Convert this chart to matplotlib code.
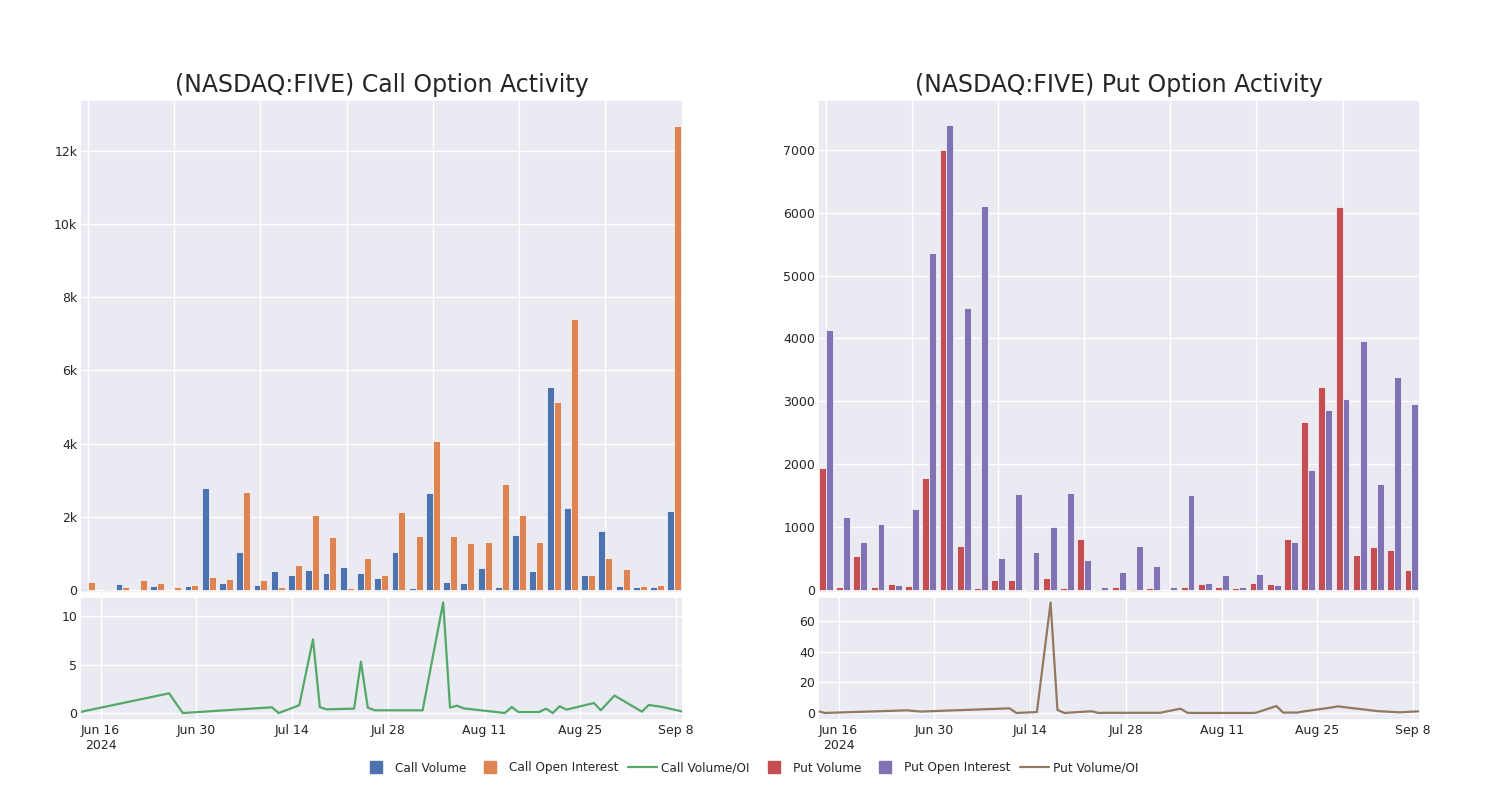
import matplotlib.pyplot as plt
import matplotlib.dates as mdates
from matplotlib.lines import Line2D
from matplotlib.ticker import FuncFormatter
import pandas as pd
import seaborn as sns

sns.set_theme(style="darkgrid")
plt.rcParams['font.family'] = ['DejaVu Sans']

# bar data, one value per expiration (35 groups)
call_volume = [30, 10, 165, 0, 110, 0, 100, 2800, 200, 1050, 135, 510, 410, 560, 470,
               625, 480, 330, 1040, 60, 2640, 230, 180, 590, 80, 1515, 510, 5550, 2250,
               420, 1605, 100, 90, 90, 2150]
call_oi = [210, 20, 75, 265, 190, 75, 125, 360, 310, 2670, 280, 90, 680, 2050, 1460,
           45, 870, 420, 2140, 1490, 4060, 1470, 1290, 1305, 2890, 2050, 1325, 5135, 7410,
           400, 870, 580, 100, 125, 12690]
put_volume = [1947, 53, 540, 53, 100, 69, 1783, 6995, 698, 32, 159, 153, 10, 196, 26,
              815, 16, 53, 16, 26, 5, 53, 90, 42, 26, 116, 95, 804, 2672, 3233, 6085,
              556, 688, 635, 312]
put_oi = [4137, 1164, 762, 1048, 74, 1280, 5354, 7400, 4492, 6116, 513, 1529, 598, 995, 1540,
          476, 53, 291, 698, 386, 53, 1513, 106, 233, 42, 254, 79, 757, 1915, 2868, 3032,
          3958, 1683, 3392, 2952]

# volume / open interest ratio by trading day
ratio_dates = ["2024-06-13", "2024-06-14", "2024-06-26", "2024-06-28", "2024-07-11",
               "2024-07-12", "2024-07-15", "2024-07-17", "2024-07-18", "2024-07-19",
               "2024-07-23", "2024-07-24", "2024-07-25", "2024-07-26", "2024-08-02",
               "2024-08-05", "2024-08-06", "2024-08-07", "2024-08-08", "2024-08-14",
               "2024-08-15", "2024-08-16", "2024-08-19", "2024-08-20", "2024-08-21",
               "2024-08-22", "2024-08-23", "2024-08-27", "2024-08-28", "2024-08-30",
               "2024-09-03", "2024-09-04", "2024-09-06", "2024-09-09"]
call_ratio = [0.1, 0.25, 2.03, 0.0, 0.59, 0.0, 0.8, 7.6, 0.6, 0.38, 0.45, 5.28, 0.55, 0.28,
              0.28, 11.4, 0.55, 0.76, 0.48, 0.0, 0.62, 0.1, 0.1, 0.45, 0.0, 0.7, 0.35,
              1.03, 0.28, 1.8, 0.14, 0.83, 0.62, 0.14]
put_ratio = [1.1, 0.0, 1.7, 0.9, 3.0, 0.0, 0.6, 72.0, 2.0, 0.0, 1.1, 0.0, 0.1, 0.1, 0.1,
             2.8, 0.1, 0.0, 0.0, 0.0, 0.0, 0.1, 4.5, 0.2, 0.3, 0.2, 1.0, 3.5, 4.3, 3.2,
             1.1, 0.9, 0.4, 1.1]

date_ticks = ["2024-06-16", "2024-06-30", "2024-07-14", "2024-07-28",
              "2024-08-11", "2024-08-25", "2024-09-08"]
date_labels = ["Jun 16\n2024", "Jun 30", "Jul 14", "Jul 28", "Aug 11", "Aug 25", "Sep 8"]

colors = {"cv": "#4C72B0", "coi": "#DD8452", "cr": "#55A868",
          "pv": "#C44E52", "poi": "#8172B3", "pr": "#937860"}

dates = pd.to_datetime(ratio_dates)
ticks = pd.to_datetime(date_ticks)
idx = list(range(len(call_volume)))


def k_fmt(v, pos):
    return "0" if v == 0 else f"{v / 1000:g}k"


def bar_panel(ax, first, second, c1, c2, title):
    ax.bar([i - 0.2 for i in idx], first, width=0.4, color=c1, edgecolor="white", linewidth=0.5)
    ax.bar([i + 0.2 for i in idx], second, width=0.4, color=c2, edgecolor="white", linewidth=0.5)
    ax.set_xlim(-0.46, 34.5)
    ax.set_xticks(range(0, 35, 5))
    ax.set_xticklabels([])
    ax.set_title(title, fontsize=17, pad=6, color="#262626")
    ax.tick_params(axis="both", length=0)
    ax.tick_params(axis="y", labelsize=9, pad=2)


def line_panel(ax, values, color):
    ax.plot(dates, values, color=color, linewidth=1.6)
    ax.set_xlim(dates[0], dates[-1])
    ax.set_xticks(ticks)
    ax.set_xticklabels(date_labels, fontsize=9)
    ax.tick_params(axis="both", length=0)
    ax.tick_params(axis="y", labelsize=9, pad=2)
    ax.tick_params(axis="x", pad=3)


fig = plt.figure(figsize=(15, 8), dpi=100)
ax1 = fig.add_axes([80 / 1500, 1 - 593 / 800, 603 / 1500, 493 / 800])
ax2 = fig.add_axes([80 / 1500, 1 - 720 / 800, 603 / 1500, 123 / 800])
ax3 = fig.add_axes([818 / 1500, 1 - 593 / 800, 602 / 1500, 493 / 800])
ax4 = fig.add_axes([818 / 1500, 1 - 720 / 800, 602 / 1500, 123 / 800])

bar_panel(ax1, call_volume, call_oi, colors["cv"], colors["coi"],
          "(NASDAQ:FIVE) Call Option Activity")
ax1.set_ylim(-80, 13390)
ax1.set_yticks(range(0, 12001, 2000))
ax1.yaxis.set_major_formatter(FuncFormatter(k_fmt))

bar_panel(ax3, put_volume, put_oi, colors["pv"], colors["poi"],
          "(NASDAQ:FIVE) Put Option Activity")
ax3.set_ylim(-50, 7795)
ax3.set_yticks(range(0, 7001, 1000))

line_panel(ax2, call_ratio, colors["cr"])
ax2.set_ylim(-0.72, 11.96)
ax2.set_yticks([0, 5, 10])

line_panel(ax4, put_ratio, colors["pr"])
ax4.set_ylim(-4.6, 75.6)
ax4.set_yticks([0, 20, 40, 60])

handles = [
    Line2D([], [], marker="s", linestyle="none", markersize=9, color=colors["cv"]),
    Line2D([], [], marker="s", linestyle="none", markersize=9, color=colors["coi"]),
    Line2D([], [], color=colors["cr"], linewidth=1.6),
    Line2D([], [], marker="s", linestyle="none", markersize=9, color=colors["pv"]),
    Line2D([], [], marker="s", linestyle="none", markersize=9, color=colors["poi"]),
    Line2D([], [], color=colors["pr"], linewidth=1.6),
]
labels = ["Call Volume", "Call Open Interest", "Call Volume/OI",
          "Put Volume", "Put Open Interest", "Put Volume/OI"]
fig.legend(handles, labels, loc="center", bbox_to_anchor=(0.5, 1 - 768 / 800), ncol=6,
           frameon=False, fontsize=8.7, handlelength=2.4, columnspacing=0.8, handletextpad=0.35)

fig.savefig("out.png", dpi=100)
